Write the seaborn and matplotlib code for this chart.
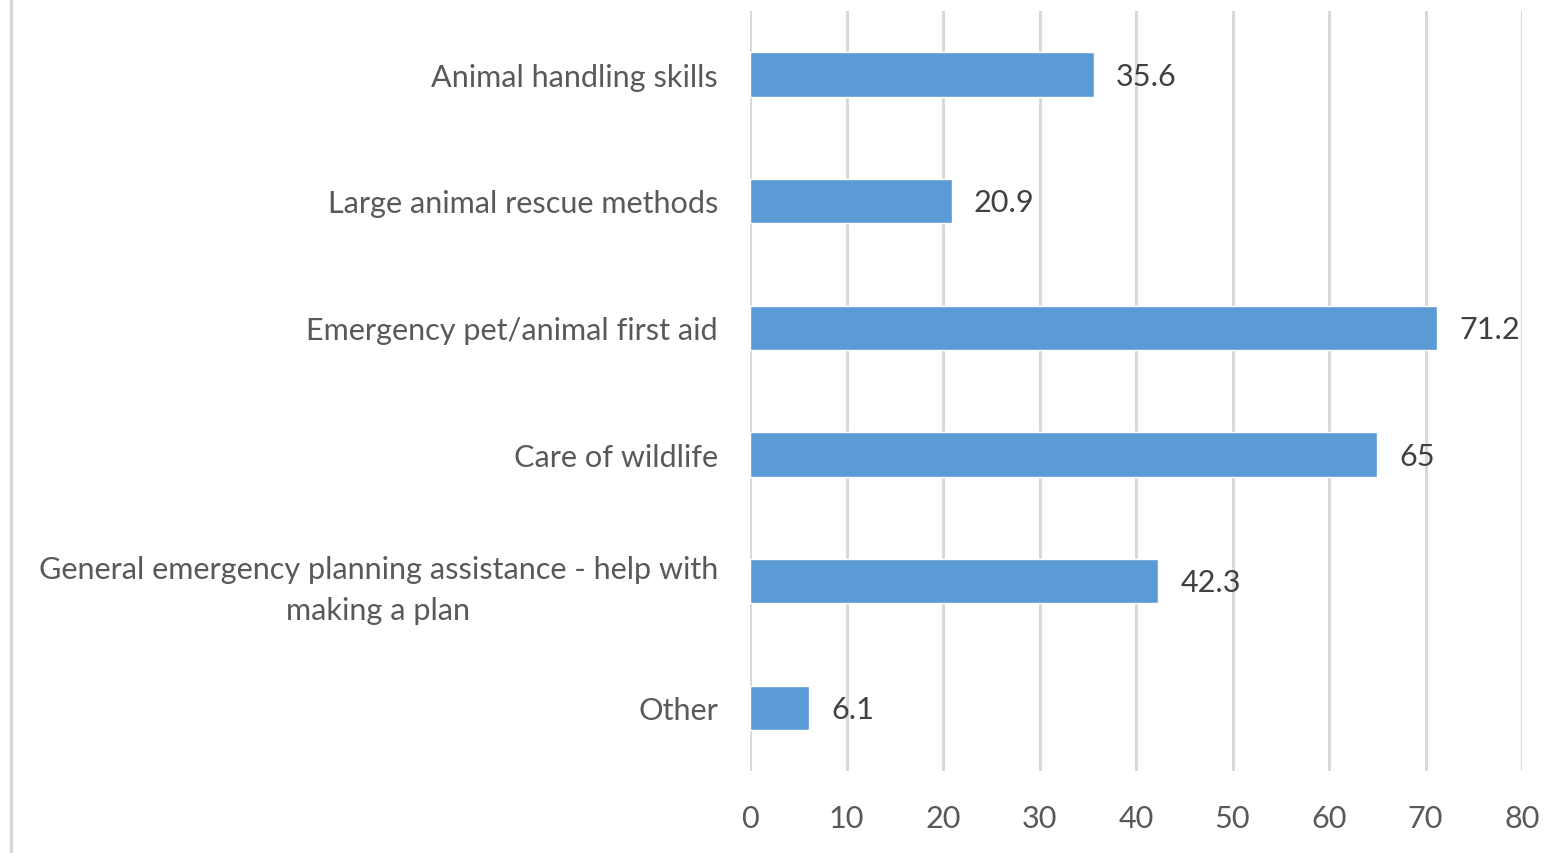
import matplotlib
matplotlib.use("Agg")
import matplotlib.pyplot as plt
import seaborn as sns
import pandas as pd

categories = [
    "Animal handling skills",
    "Large animal rescue methods",
    "Emergency pet/animal first aid",
    "Care of wildlife",
    "General emergency planning assistance - help with\nmaking a plan",
    "Other",
]
values = [35.6, 20.9, 71.2, 65, 42.3, 6.1]
value_labels = ["35.6", "20.9", "71.2", "65", "42.3", "6.1"]
xticks = [0, 10, 20, 30, 40, 50, 60, 70, 80]

sns.set_theme(style="white")
plt.rcParams['font.family'] = ['Lato', 'DejaVu Sans']

df = pd.DataFrame({"category": categories, "value": values})

fig = plt.figure(figsize=(15.55, 8.54), dpi=100)
ax = fig.add_axes([750/1555, 1-772/854, (1522-750)/1555, (772-12)/854])

# fit font size so the longest label line matches the reference width (~681 px)
renderer = fig.canvas.get_renderer()
probe = fig.text(0, 0, "General emergency planning assistance - help with", fontsize=20)
w = probe.get_window_extent(renderer=renderer).width
probe.remove()
fs = 20 * 681 / w

sns.barplot(data=df, x="value", y="category", color="#5B9BD5", width=0.35,
            saturation=1, ax=ax, zorder=3)

ax.set_xlim(0, 80)
ax.set_xticks(xticks)
ax.set_xticklabels([str(t) for t in xticks])
ax.grid(False)
for t in xticks:
    ax.axvline(t, color="#D9D9D9", lw=2.2, zorder=0)
for s in ax.spines.values():
    s.set_visible(False)
ax.set_xlabel("")
ax.set_ylabel("")
ax.tick_params(axis="x", length=0, pad=24, labelsize=fs, labelcolor="#595959")
ax.tick_params(axis="y", length=0, pad=23, labelsize=fs, labelcolor="#595959")
for lbl in ax.get_yticklabels():
    lbl.set_multialignment("center")
    lbl.set_linespacing(1.55)

for i, (v, lab) in enumerate(zip(values, value_labels)):
    ax.annotate(lab, xy=(v, i), xytext=(16, -1), textcoords="offset points",
                va="center", ha="left", fontsize=fs, color="#404040")

# left border line of the figure
fig.add_artist(plt.Line2D([11/1555, 11/1555], [0, 1], color="#D9D9D9", lw=2.5,
                          transform=fig.transFigure))

fig.savefig("out.png", dpi=100, facecolor="white")
